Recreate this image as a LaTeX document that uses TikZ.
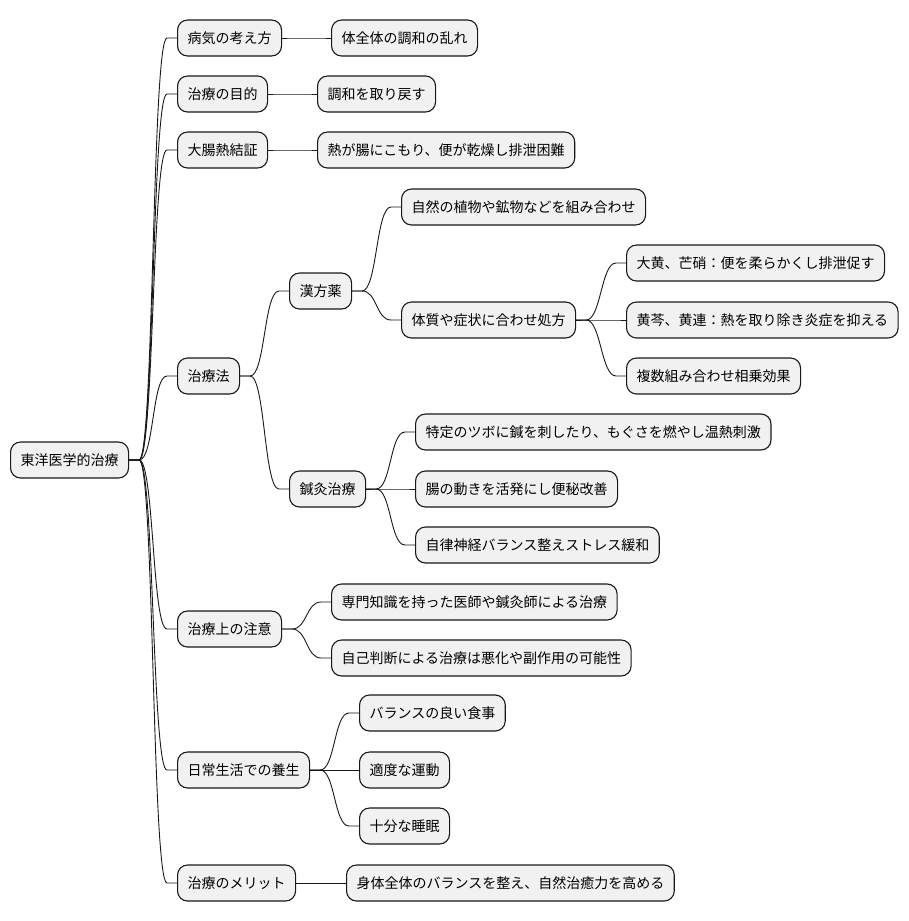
\documentclass[tikz,border=0pt]{standalone}
\usepackage{fontspec}
\setmainfont{Noto Sans CJK JP}
\definecolor{boxfill}{HTML}{F1F1F1}
\definecolor{boxline}{HTML}{181818}
\tikzset{
  mm/.style={draw=boxline, fill=boxfill, line width=1.1pt, rounded corners=10pt,
    minimum height=36pt, inner xsep=10pt, inner ysep=0pt, anchor=west,
    font=\fontsize{14}{16}\selectfont, text=black},
  link/.style={to path={-- ++(10,0) .. controls +(15,0) and +(-15,0) .. ([xshift=-10pt]\tikztotarget) -- (\tikztotarget)}},
  conn/.style={draw=boxline, line width=0.9pt}
}
\begin{document}
\begin{tikzpicture}[x=1pt,y=-1pt]
\useasboundingbox (0,0) rectangle (908,921);
\node[mm] (root) at (10,460) {東洋医学的治療};
\node[mm] (a1) at (177,38) {病気の考え方};
\node[mm] (a1c) at (331,38) {体全体の調和の乱れ};
\node[mm] (a2) at (177,94) {治療の目的};
\node[mm] (a2c) at (317,94) {調和を取り戻す};
\node[mm] (a3) at (177,150) {大腸熱結証};
\node[mm] (a3c) at (317,150) {熱が腸にこもり、便が乾燥し排泄困難};
\node[mm] (a4) at (177,376) {治療法};
\node[mm] (b1) at (289,291) {漢方薬};
\node[mm] (c1) at (401,207) {自然の植物や鉱物などを組み合わせ};
\node[mm] (c2) at (401,320) {体質や症状に合わせ処方};
\node[mm] (d1) at (626,263) {大黄、芒硝：便を柔らかくし排泄促す};
\node[mm] (d2) at (626,320) {黄芩、黄連：熱を取り除き炎症を抑える};
\node[mm] (d3) at (626,376) {複数組み合わせ相乗効果};
\node[mm] (b2) at (289,489) {鍼灸治療};
\node[mm] (c3) at (415,432) {特定のツボに鍼を刺したり、もぐさを燃やし温熱刺激};
\node[mm] (c4) at (415,489) {腸の動きを活発にし便秘改善};
\node[mm] (c5) at (415,545) {自律神経バランス整えストレス緩和};
\node[mm] (a5) at (177,629) {治療上の注意};
\node[mm] (e1) at (331,602) {専門知識を持った医師や鍼灸師による治療};
\node[mm] (e2) at (331,658) {自己判断による治療は悪化や副作用の可能性};
\node[mm] (a6) at (177,770) {日常生活での養生};
\node[mm] (f1) at (359,713) {バランスの良い食事};
\node[mm] (f2) at (359,770) {適度な運動};
\node[mm] (f3) at (359,826) {十分な睡眠};
\node[mm] (a7) at (177,883) {治療のメリット};
\node[mm] (g1) at (346,883) {身体全体のバランスを整え、自然治癒力を高める};
\begin{scope}[on background layer/.try]
\foreach \p/\c in {root/a1,root/a2,root/a3,root/a4,root/a5,root/a6,root/a7,
  a1/a1c,a2/a2c,a3/a3c,a4/b1,a4/b2,b1/c1,b1/c2,c2/d1,c2/d2,c2/d3,
  b2/c3,b2/c4,b2/c5,a5/e1,a5/e2,a6/f1,a6/f2,a6/f3,a7/g1}
  \draw[conn] (\p.east) to[link] (\c.west);
\end{scope}
\end{tikzpicture}
\end{document}
